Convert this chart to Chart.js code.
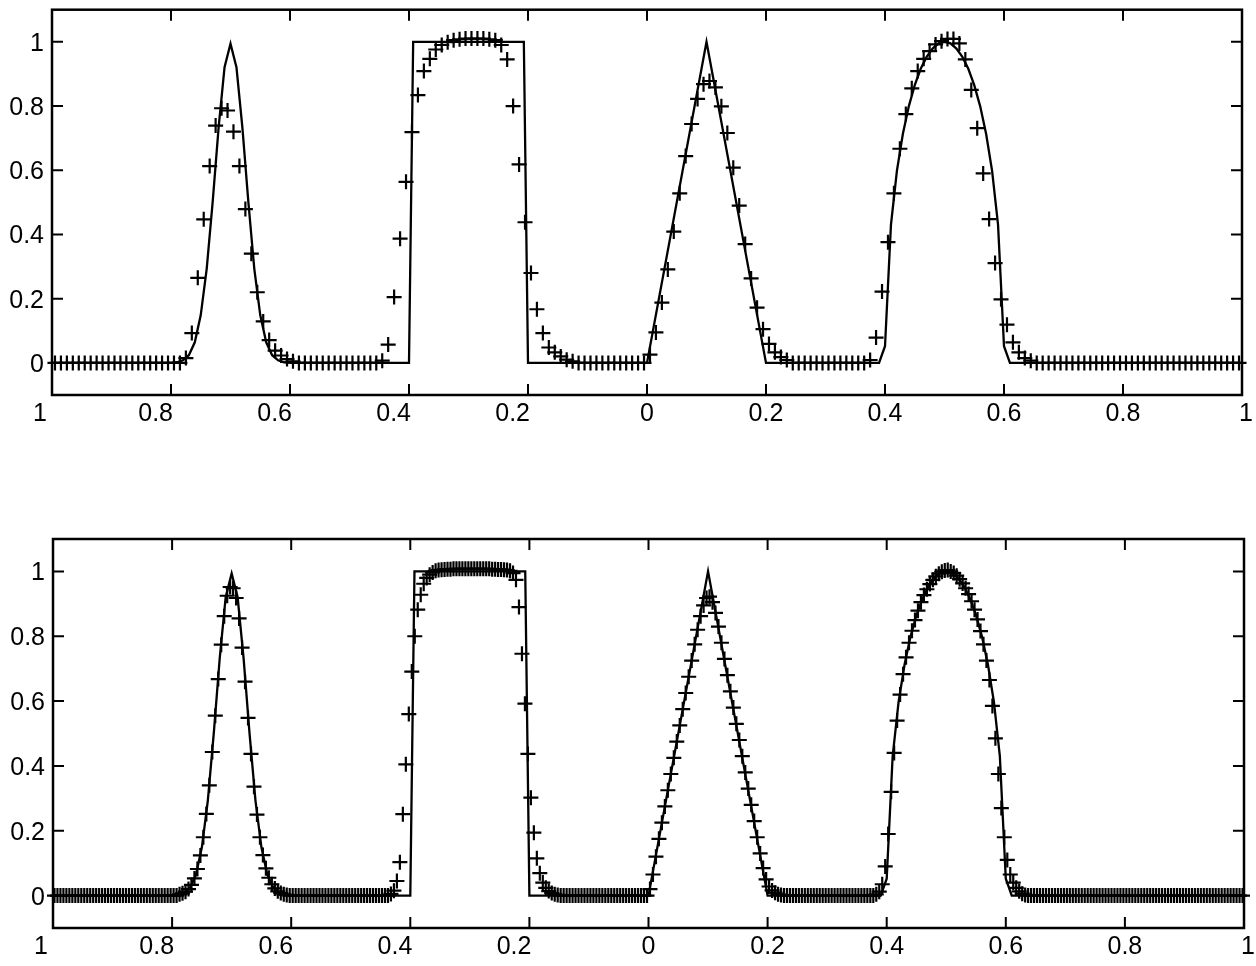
<!DOCTYPE html>
<html>
<head>
<meta charset="utf-8">
<script src="https://cdn.jsdelivr.net/npm/chart.js@4.4.1/dist/chart.umd.min.js"></script>
<style>
  html, body { margin: 0; padding: 0; background: #fff; overflow: hidden; }
  canvas { position: absolute; left: 0; }
  #top { top: 0; }
  #bottom { top: 483px; }
</style>
</head>
<body>
<canvas id="top" width="1256" height="483"></canvas>
<canvas id="bottom" width="1256" height="483"></canvas>
<script>
// axis ticks
var xTicks = [-1, -0.8, -0.6, -0.4, -0.2, 0, 0.2, 0.4, 0.6, 0.8, 1];
var xTickLabels = ['1', '0.8', '0.6', '0.4', '0.2', '0', '0.2', '0.4', '0.6', '0.8', '1'];
var yTicks = [0, 0.2, 0.4, 0.6, 0.8, 1];
var yTickLabels = ['0', '0.2', '0.4', '0.6', '0.8', '1'];

// exact solution (solid line)
var exactX = [-1, -0.8, -0.79, -0.78, -0.77, -0.76, -0.75, -0.74, -0.73, -0.72, -0.71, -0.7,
  -0.69, -0.68, -0.67, -0.66, -0.65, -0.64, -0.63, -0.62, -0.61, -0.6,
  -0.4, -0.393, -0.207, -0.2,
  0, 0.1, 0.2,
  0.39, 0.4, 0.41, 0.42, 0.43, 0.44, 0.45, 0.46, 0.47, 0.48, 0.49, 0.5,
  0.51, 0.52, 0.53, 0.54, 0.55, 0.56, 0.57, 0.58, 0.59, 0.6, 0.61, 1];
var exactY = [0, 0, 0.002, 0.008, 0.024, 0.064, 0.149, 0.293, 0.501, 0.733, 0.921, 0.994,
  0.921, 0.733, 0.501, 0.293, 0.149, 0.064, 0.024, 0.008, 0.002, 0,
  0, 1, 1, 0,
  0, 1, 0,
  0, 0.052, 0.43, 0.598, 0.713, 0.799, 0.865, 0.916, 0.953, 0.979, 0.995, 1,
  0.995, 0.979, 0.953, 0.916, 0.865, 0.799, 0.713, 0.598, 0.43, 0.052, 0, 0];

// numerical solution, 200 cells (top)
var coarseDx = 0.01;
var coarseU = [
  0,0,0,0,0,0,0,0,0,0, 0,0,0,0,0,0,0,0,0,0, 0,0,
  0.015, 0.093, 0.265, 0.447, 0.613, 0.739, 0.793, 0.786, 0.72, 0.613,
  0.479, 0.34, 0.22, 0.129, 0.071, 0.038, 0.023, 0.012, 0.005,
  0,0,0,0,0,0,0,0,0,0, 0,0,0,0,
  0.007, 0.057, 0.205, 0.387, 0.564, 0.719, 0.834, 0.909, 0.947, 0.976, 0.99, 0.999,
  1.005, 1.008, 1.01, 1.01, 1.01, 1.01, 1.008, 1.005,
  0.99, 0.945, 0.8, 0.618, 0.438, 0.28, 0.167, 0.093, 0.048, 0.033,
  0.02, 0.01, 0.005,
  0,0,0,0,0,0,0,0,0,0, 0,0,
  0.026, 0.095, 0.188, 0.291, 0.409, 0.528, 0.644, 0.744, 0.822, 0.868, 0.878, 0.858,
  0.799, 0.716, 0.608, 0.49, 0.37, 0.263, 0.172, 0.105, 0.059, 0.033, 0.018, 0.009,
  0,0,0,0,0,0,0,0,0,0, 0,0,0,
  0.009, 0.079, 0.222, 0.376, 0.528, 0.667, 0.775, 0.855, 0.909, 0.947, 0.971, 0.992, 1.002, 1.009,
  1.009, 0.995, 0.945, 0.85, 0.731, 0.59, 0.448, 0.311, 0.198, 0.119, 0.064, 0.033, 0.015, 0.007,
  0,0,0,0,0,0,0,0,0,0, 0,0,0,0,0,0,0,0,0,0, 0,0,0,0,0,0,0,0,0,0, 0,0,0,0,0
];

// numerical solution, 400 cells (bottom)
var fineDx = 0.005;
var fineU = [
  0,0,0,0,0,0,0,0,0,0, 0,0,0,0,0,0,0,0,0,0, 0,0,0,0,0,0,0,0,0,0, 0,0,0,0,0,0,0,0,0,0, 0,0,
  0.004, 0.007, 0.012, 0.02, 0.033, 0.053, 0.082, 0.124, 0.18, 0.252, 0.34, 0.443, 0.555,
  0.668, 0.774, 0.862, 0.925, 0.952, 0.948, 0.918, 0.855, 0.765, 0.66, 0.548, 0.437,
  0.336, 0.25, 0.18, 0.125, 0.084, 0.055, 0.035, 0.022, 0.013, 0.008, 0.004, 0.002,
  0,0,0,0,0,0,0,0,0,0, 0,0,0,0,0,0,0,0,0,0, 0,0,0,0,0,0,0,0,0,0, 0,0,0,0,
  0.005, 0.015, 0.045, 0.103, 0.251, 0.405, 0.56, 0.691, 0.8, 0.882, 0.928, 0.962, 0.98, 0.99, 0.997, 1.002,
  1.004, 1.005, 1.006, 1.007, 1.007, 1.008, 1.008, 1.008, 1.008, 1.008, 1.008, 1.008, 1.008,
  1.008, 1.008, 1.008, 1.008, 1.008, 1.007, 1.007, 1.006, 1.006, 1.005, 1.004, 1.002,
  0.995, 0.974, 0.89, 0.746, 0.592, 0.437, 0.302, 0.194, 0.115, 0.069, 0.04, 0.024, 0.014, 0.008, 0.004, 0.002,
  0,0,0,0,0,0,0,0,0,0, 0,0,0,0,0,0,0,0,0,0, 0,0,0,0,0,0,0,0,0,0,
  0.02, 0.065, 0.12, 0.175, 0.225, 0.275, 0.325, 0.375, 0.425, 0.475,
  0.525, 0.575, 0.625, 0.675, 0.725, 0.775, 0.82, 0.862, 0.895, 0.918,
  0.922, 0.905, 0.872, 0.83, 0.78, 0.73, 0.68, 0.63, 0.58, 0.53,
  0.48, 0.43, 0.38, 0.33, 0.28, 0.23, 0.18, 0.13, 0.085, 0.05,
  0.028, 0.016, 0.009, 0.004, 0.002,
  0,0,0,0,0,0,0,0,0,0, 0,0,0,0,0,0,0,0,0,0, 0,0,0,0,0,0,0,0,0,0, 0,
  0.004, 0.012, 0.035, 0.09, 0.19, 0.32, 0.44, 0.54, 0.62, 0.683, 0.735, 0.78,
  0.817, 0.85, 0.879, 0.905, 0.927, 0.945, 0.961, 0.974, 0.985, 0.993, 0.999, 1.003,
  1.004, 1.0, 0.995, 0.987, 0.976, 0.963, 0.948, 0.93, 0.908, 0.882, 0.852, 0.816, 0.775,
  0.725, 0.665, 0.585, 0.485, 0.375, 0.27, 0.18, 0.11, 0.065, 0.04, 0.024, 0.013, 0.006, 0.002,
  0,0,0,0,0,0,0,0,0,0, 0,0,0,0,0,0,0,0,0,0, 0,0,0,0,0,0,0,0,0,0, 0,0,0,0,0,0,0,0,0,0,
  0,0,0,0,0,0,0,0,0,0, 0,0,0,0,0,0,0,0,0,0, 0,0,0,0,0,0,0,0,0,0, 0,0,0
];

var labelFont = '25px "Liberation Sans", Arial, Helvetica, sans-serif';

// box, inward ticks and tick labels (matlab style)
var framePlugin = {
  id: 'frame',
  afterDraw: function (chart) {
    var ctx = chart.ctx, a = chart.chartArea;
    var xs = chart.scales.x, ys = chart.scales.y;
    var len = 11;
    ctx.save();
    ctx.strokeStyle = '#000';
    ctx.lineWidth = 2.5;
    ctx.strokeRect(a.left, a.top, a.right - a.left, a.bottom - a.top);
    ctx.lineWidth = 2;
    ctx.beginPath();
    xTicks.forEach(function (v) {
      var px = xs.getPixelForValue(v);
      ctx.moveTo(px, a.bottom); ctx.lineTo(px, a.bottom - len);
      ctx.moveTo(px, a.top); ctx.lineTo(px, a.top + len);
    });
    yTicks.forEach(function (v) {
      var py = ys.getPixelForValue(v);
      ctx.moveTo(a.left, py); ctx.lineTo(a.left + len, py);
      ctx.moveTo(a.right, py); ctx.lineTo(a.right - len, py);
    });
    ctx.stroke();

    ctx.fillStyle = '#000';
    ctx.font = labelFont;
    ctx.textBaseline = 'alphabetic';
    ctx.textAlign = 'right';
    yTicks.forEach(function (v, i) {
      ctx.fillText(yTickLabels[i], a.left - 8, ys.getPixelForValue(v) + 9);
    });
    xTicks.forEach(function (v, i) {
      var px = xs.getPixelForValue(v);
      if (v < 0) {
        ctx.textAlign = 'right';
        px += (v === -1) ? -5 : 2;
      } else {
        ctx.textAlign = 'center';
        if (v === 1) px += 4;
      }
      ctx.fillText(xTickLabels[i], px, a.bottom + 26);
    });
    ctx.restore();
  }
};

function makeChart(id, values, dx, pad) {
  var pts = values.map(function (v, i) { return { x: -1 + (i + 0.5) * dx, y: v }; });
  var line = exactX.map(function (x, i) { return { x: x, y: exactY[i] }; });
  return new Chart(document.getElementById(id).getContext('2d'), {
    type: 'scatter',
    data: {
      datasets: [{
        data: line,
        showLine: true,
        borderColor: '#000',
        borderWidth: 2.3,
        pointRadius: 0,
        fill: false,
        tension: 0
      }, {
        data: pts,
        showLine: false,
        pointStyle: 'cross',
        pointRadius: 7.5,
        borderColor: '#000',
        backgroundColor: '#000',
        borderWidth: 2.2,
        clip: false
      }]
    },
    options: {
      responsive: false,
      animation: false,
      events: [],
      layout: { padding: pad },
      plugins: { legend: { display: false }, tooltip: { enabled: false } },
      scales: {
        x: { type: 'linear', min: -1, max: 1, display: false },
        y: { type: 'linear', min: -0.1, max: 1.1, display: false }
      }
    },
    plugins: [framePlugin]
  });
}

makeChart('top', coarseU, coarseDx, { left: 52, right: 14, top: 6, bottom: 88 });
makeChart('bottom', fineU, fineDx, { left: 53, right: 12, top: 56, bottom: 38 });
</script>
</body>
</html>
